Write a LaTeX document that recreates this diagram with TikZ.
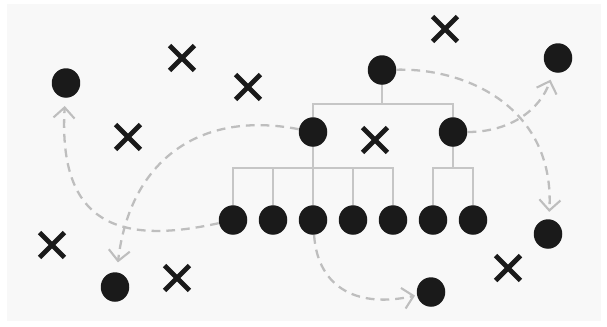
\documentclass[tikz,border=0pt]{standalone}
\usepackage{xcolor}
\usepackage{tikz}
\usetikzlibrary{positioning}
\usetikzlibrary{shapes.misc}
\usetikzlibrary{shapes.geometric}
\usetikzlibrary{arrows.meta}
\pgfdeclarelayer{nodelayer}
\pgfdeclarelayer{edgelayer}
\pgfsetlayers{edgelayer,nodelayer,main}
\definecolor{ink}{HTML}{1A1A1A}
\definecolor{branch}{HTML}{C6C6C6}
\definecolor{trail}{HTML}{BEBEBE}
\definecolor{paper}{HTML}{F8F8F8}

\begin{document}
\begin{tikzpicture}[x=0.02cm, y=-0.02cm,
    dot/.style={ellipse, fill=ink, inner sep=0pt, minimum width=0.57cm, minimum height=0.59cm},
    xmark/.style={cross out, draw=ink, line width=2.8pt, inner sep=0pt, minimum size=0.4cm},
    tree/.style={draw=branch, line width=1.3pt},
    route/.style={draw=trail, line width=1.3pt, dash pattern=on 5pt off 3.4pt,
      -{Straight Barb[length=6pt, width=12pt, line width=1.2pt]}}]
  \useasboundingbox (0, 0) rectangle (607, 326);
  \begin{pgfonlayer}{nodelayer}
    % the tree
    \node [dot] (0) at (382, 70) {};
    \node [dot] (1) at (313, 132) {};
    \node [dot] (2) at (453, 132) {};
    \node [dot] (3) at (233, 220) {};
    \node [dot] (4) at (273, 220) {};
    \node [dot] (5) at (313, 220) {};
    \node [dot] (6) at (353, 220) {};
    \node [dot] (7) at (393, 220) {};
    \node [dot] (8) at (433, 220) {};
    \node [dot] (9) at (473, 220) {};
    % loose dots
    \node [dot] (10) at (115, 287) {};
    \node [dot] (11) at (548, 234) {};
    \node [dot] (12) at (66, 83) {};
    \node [dot] (13) at (558, 58) {};
    \node [dot] (14) at (431, 292) {};
    % crosses
    \node [xmark] (15) at (182, 58) {};
    \node [xmark] (16) at (248, 87) {};
    \node [xmark] (17) at (445, 29) {};
    \node [xmark] (18) at (128, 137) {};
    \node [xmark] (19) at (375, 140) {};
    \node [xmark] (20) at (52, 245) {};
    \node [xmark] (21) at (177, 278) {};
    \node [xmark] (22) at (508, 268) {};
  \end{pgfonlayer}
  \begin{pgfonlayer}{edgelayer}
    \fill [paper] (7, 4) rectangle (601, 321);
    \draw [tree] (0.center) -- ++(0, 34) -| (1.center);
    \draw [tree] (0.center) -- ++(0, 34) -| (2.center);
    \foreach \c in {3,...,7}
      \draw [tree] (1.center) -- ++(0, 36) -| (\c.center);
    \foreach \c in {8,9}
      \draw [tree] (2.center) -- ++(0, 36) -| (\c.center);
    \draw [route, shorten >=4.5pt] (3) .. controls (120, 245) and (58, 225) .. (12);
    \draw [route, shorten >=5.5pt] (1) .. controls (200, 110) and (130, 160) .. (10);
    \draw [route, shorten >=4pt] (0) .. controls (470, 68) and (555, 110) .. (11);
    \draw [route, shorten >=4.5pt] (2) .. controls (510, 132) and (540, 110) .. (13);
    \draw [route, shorten >=1pt] (5) .. controls (318, 290) and (360, 308) .. (14);
  \end{pgfonlayer}
\end{tikzpicture}
\end{document}
